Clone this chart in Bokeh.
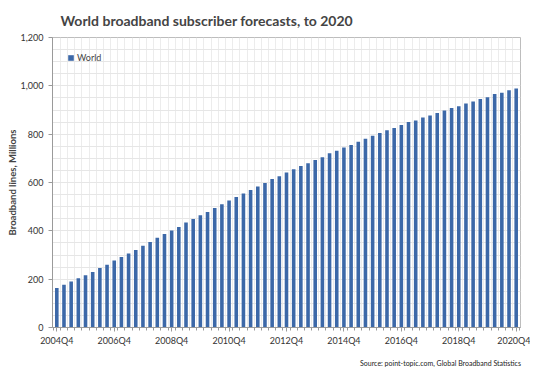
from bokeh.plotting import figure
from bokeh.models import (ColumnDataSource, FixedTicker, NumeralTickFormatter, Range1d,
                          Div, Legend, LegendItem)
from bokeh.layouts import column
from bokeh.embed import file_html
from bokeh.resources import INLINE

# ---- data ----
quarters = [f"{y}Q{q}" for y in range(2004, 2021) for q in range(1, 5)]
quarters = quarters[quarters.index("2004Q4"):quarters.index("2020Q4") + 1]
world = [163, 177, 190, 204, 216, 230, 246, 260, 277, 292, 306, 321, 338, 354, 371, 387,
         401, 416, 434, 449, 464, 478, 495, 510, 526, 540, 555, 569, 583, 598, 614, 626,
         641, 655, 668, 680, 693, 705, 721, 731, 745, 755, 769, 781, 793, 805, 816, 826,
         838, 850, 857, 869, 877, 888, 898, 908, 916, 927, 935, 946, 953, 966, 971, 982, 989]
label_quarters = ["2004Q4", "2006Q4", "2008Q4", "2010Q4", "2012Q4",
                  "2014Q4", "2016Q4", "2018Q4", "2020Q4"]
y_ticks = [0, 200, 400, 600, 800, 1000, 1200]

idx = list(range(len(quarters)))
src = ColumnDataSource(dict(x=idx, q=quarters, v=world))

FONT = "Lato"
BAR = "#3c68a8"

p = figure(width=530, height=356, output_backend="svg", toolbar_location=None,
           x_range=Range1d(-0.6, len(quarters) - 0.4), y_range=Range1d(0, 1200),
           min_border_left=52, min_border_right=10, min_border_top=8, min_border_bottom=29)

r = p.vbar(x="x", top="v", width=0.5, source=src, fill_color=BAR, line_color=None)

# title
p.title.text = "World broadband subscriber forecasts, to 2020"
p.title.text_font = FONT
p.title.text_font_size = "14px"
p.title.text_font_style = "bold"
p.title.align = "left"
p.title.offset = 8
p.title.standoff = 18

source_note = Div(text="Source: point-topic.com, Global Broadband Statistics",
                  width=530, height=14, margin=(0, 0, 0, 0),
                  styles={"font-family": FONT, "font-size": "7px", "color": "#222222",
                          "text-align": "right", "line-height": "14px",
                          "width": "521px"})

# axes
p.xaxis.ticker = FixedTicker(ticks=[quarters.index(q) for q in label_quarters],
                             minor_ticks=[i + 0.5 for i in idx[:-1]] + [-0.5, len(idx) - 0.5])
p.xaxis.major_label_overrides = {quarters.index(q): q for q in label_quarters}
p.yaxis.ticker = FixedTicker(ticks=y_ticks, minor_ticks=list(range(0, 1201, 50)))
p.yaxis.formatter = NumeralTickFormatter(format="0,0")
p.yaxis.axis_label = "Broadband lines, Millions"
p.yaxis.axis_label_text_font = FONT
p.yaxis.axis_label_text_font_size = "9.5px"
p.yaxis.axis_label_text_font_style = "bold"
p.yaxis.axis_label_standoff = 0
for ax in (p.xaxis[0], p.yaxis[0]):
    ax.major_label_text_font = FONT
    ax.major_label_text_font_size = "9px"
    ax.major_label_text_color = "#333333"
    ax.axis_line_color = "#9a9a9a"
    ax.major_tick_line_color = "#9a9a9a"
    ax.major_tick_in = 0
    ax.major_tick_out = 4
ax = p.xaxis[0]
ax.minor_tick_line_color = "#9a9a9a"
ax.minor_tick_in = 0
ax.minor_tick_out = 3
ax.major_label_standoff = 3
p.yaxis.major_label_standoff = 5
p.yaxis.minor_tick_line_color = None

# grids
p.xgrid.ticker = FixedTicker(ticks=[i + 0.5 for i in idx[:-1]])
p.xgrid.grid_line_color = "#ececec"
p.ygrid.ticker = FixedTicker(ticks=list(range(50, 1201, 50)))
p.ygrid.grid_line_color = "#e6e6e6"
p.outline_line_color = "#bdbdbd"

legend = Legend(items=[LegendItem(label="World", renderers=[r])],
                border_line_color=None, background_fill_alpha=0,
                label_text_font=FONT, label_text_font_size="9px",
                glyph_width=7, glyph_height=7, label_standoff=3, padding=6, margin=15)
p.add_layout(legend)
legend.location = "top_left"

layout = column(p, source_note, spacing=0)
open("out.html", "w").write(file_html(layout, INLINE))
